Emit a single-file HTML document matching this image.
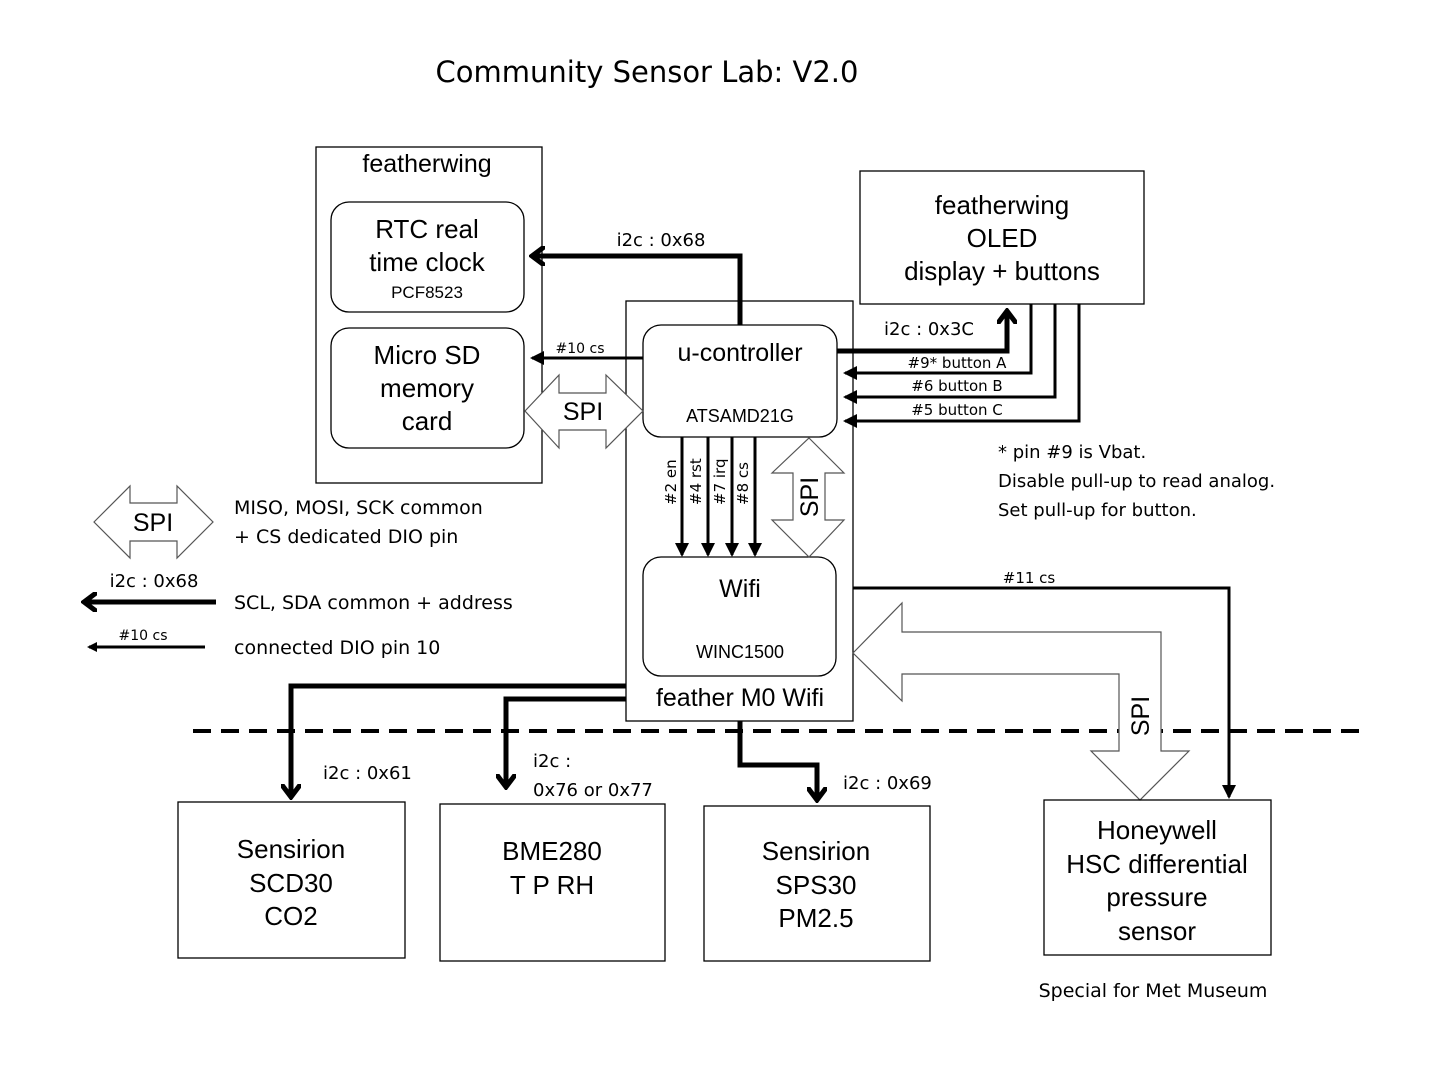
<!DOCTYPE html>
<html><head><meta charset="utf-8"><style>
html,body{margin:0;padding:0;background:#fff}
svg{display:block}
text{font-family:"Liberation Sans",sans-serif;fill:#000}
.c{font-family:"DejaVu Sans","Liberation Sans",sans-serif}
</style></head><body>
<svg width="1440" height="1080" viewBox="0 0 1440 1080">
<defs>
<marker id="ah" markerWidth="10" markerHeight="10" refX="8" refY="5" orient="auto" markerUnits="userSpaceOnUse"><path d="M0,0 L10,5 L0,10 Z"/></marker>
<marker id="ahs" markerWidth="14" markerHeight="14" refX="12" refY="7" orient="auto" markerUnits="userSpaceOnUse"><path d="M0,0 L14,7 L0,14 Z"/></marker>
<marker id="ahb" markerWidth="16" markerHeight="20" refX="13" refY="10" orient="auto" markerUnits="userSpaceOnUse"><path d="M1,1 L13,10 L1,19" fill="none" stroke="#000" stroke-width="5" stroke-linecap="round"/></marker>
</defs>
<text x="647" y="82" font-size="29" text-anchor="middle" class="c">Community Sensor Lab: V2.0</text>

<!-- featherwing left -->
<rect x="316" y="147" width="226" height="336" fill="none" stroke="#000" stroke-width="1.3"/>
<text x="427" y="172" font-size="25" text-anchor="middle">featherwing</text>
<rect x="331" y="202" width="193" height="110" rx="18" fill="none" stroke="#000" stroke-width="1.3"/>
<text x="427" y="238" font-size="26" text-anchor="middle">RTC real</text>
<text x="427" y="271" font-size="26" text-anchor="middle">time clock</text>
<text x="427" y="298" font-size="17" text-anchor="middle">PCF8523</text>
<rect x="331" y="328" width="193" height="120" rx="18" fill="none" stroke="#000" stroke-width="1.3"/>
<text x="427" y="364" font-size="26" text-anchor="middle">Micro SD</text>
<text x="427" y="397" font-size="26" text-anchor="middle">memory</text>
<text x="427" y="430" font-size="26" text-anchor="middle">card</text>

<!-- OLED -->
<rect x="860" y="171" width="284" height="133" fill="none" stroke="#000" stroke-width="1.3"/>
<text x="1002" y="214" font-size="26" text-anchor="middle">featherwing</text>
<text x="1002" y="247" font-size="26" text-anchor="middle">OLED</text>
<text x="1002" y="280" font-size="26" text-anchor="middle">display + buttons</text>

<!-- feather -->
<rect x="626" y="301" width="227" height="420" fill="none" stroke="#000" stroke-width="1.3"/>
<rect x="643" y="325" width="194" height="112" rx="18" fill="#fff" stroke="#000" stroke-width="1.3"/>
<text x="740" y="361" font-size="25" text-anchor="middle">u-controller</text>
<text x="740" y="422" font-size="18" text-anchor="middle">ATSAMD21G</text>
<rect x="643" y="557" width="193" height="119" rx="18" fill="#fff" stroke="#000" stroke-width="1.3"/>
<text x="740" y="597" font-size="25" text-anchor="middle">Wifi</text>
<text x="740" y="658" font-size="18" text-anchor="middle">WINC1500</text>
<text x="740" y="706" font-size="25" text-anchor="middle">feather M0 Wifi</text>

<!-- i2c 0x68 -->
<polyline points="740,325 740,256 532,256" fill="none" stroke="#000" stroke-width="5" marker-end="url(#ahb)"/>
<text x="661" y="246" font-size="18" text-anchor="middle" class="c">i2c : 0x68</text>
<!-- #10 cs -->
<line x1="643" y1="358" x2="532" y2="358" stroke="#000" stroke-width="3" marker-end="url(#ahs)"/>
<text x="580" y="353" font-size="14" text-anchor="middle" class="c">#10 cs</text>
<!-- SD SPI -->
<path d="M525,411 L559,375 L559,393 L606,393 L606,375 L643,411 L606,448 L606,430 L559,430 L559,448 Z" fill="#fff" stroke="#555" stroke-width="1.2"/>
<text x="583" y="420" font-size="25" text-anchor="middle">SPI</text>

<!-- i2c 0x3C -->
<polyline points="837,351 1007,351 1007,311" fill="none" stroke="#000" stroke-width="5" marker-end="url(#ahb)"/>
<text x="929" y="335" font-size="18" text-anchor="middle" class="c">i2c : 0x3C</text>
<polyline points="1031,304 1031,373 845,373" fill="none" stroke="#000" stroke-width="3" marker-end="url(#ahs)"/>
<polyline points="1055,304 1055,397 845,397" fill="none" stroke="#000" stroke-width="3" marker-end="url(#ahs)"/>
<polyline points="1079,304 1079,421 845,421" fill="none" stroke="#000" stroke-width="3" marker-end="url(#ahs)"/>
<text x="957" y="368" font-size="15" text-anchor="middle" class="c">#9* button A</text>
<text x="957" y="391" font-size="15" text-anchor="middle" class="c">#6 button B</text>
<text x="957" y="415" font-size="15" text-anchor="middle" class="c">#5 button C</text>
<text x="998" y="458" font-size="18" class="c">* pin #9 is Vbat.</text>
<text x="998" y="487" font-size="18" class="c">Disable pull-up to read analog.</text>
<text x="998" y="516" font-size="18" class="c">Set pull-up for button.</text>

<!-- pin arrows -->
<line x1="682" y1="437" x2="682" y2="555" stroke="#000" stroke-width="3" marker-end="url(#ahs)"/>
<line x1="708" y1="437" x2="708" y2="555" stroke="#000" stroke-width="3" marker-end="url(#ahs)"/>
<line x1="732" y1="437" x2="732" y2="555" stroke="#000" stroke-width="3" marker-end="url(#ahs)"/>
<line x1="755" y1="437" x2="755" y2="555" stroke="#000" stroke-width="3" marker-end="url(#ahs)"/>
<text transform="translate(676,505) rotate(-90)" font-size="15" class="c">#2 en</text>
<text transform="translate(701,505) rotate(-90)" font-size="15" class="c">#4 rst</text>
<text transform="translate(725,505) rotate(-90)" font-size="15" class="c">#7 irq</text>
<text transform="translate(748,505) rotate(-90)" font-size="15" class="c">#8 cs</text>
<path d="M809,438 L844,473 L825,473 L825,520 L844,520 L809,557 L772,520 L793,520 L793,473 L772,473 Z" fill="#fff" stroke="#555" stroke-width="1.2"/>
<text transform="translate(818,497) rotate(-90)" font-size="25" text-anchor="middle">SPI</text>

<!-- legend -->
<path d="M94,522 L130,486 L130,503 L177,503 L177,486 L213,522 L177,558 L177,541 L130,541 L130,558 Z" fill="#fff" stroke="#555" stroke-width="1.2"/>
<text x="153" y="531" font-size="25" text-anchor="middle">SPI</text>
<text x="234" y="514" font-size="19" class="c">MISO, MOSI, SCK common</text>
<text x="234" y="543" font-size="19" class="c">+ CS dedicated DIO pin</text>
<line x1="216" y1="602" x2="84" y2="602" stroke="#000" stroke-width="5" marker-end="url(#ahb)"/>
<text x="154" y="587" font-size="18" text-anchor="middle" class="c">i2c : 0x68</text>
<text x="234" y="609" font-size="19" class="c">SCL, SDA common + address</text>
<line x1="205" y1="647" x2="89" y2="647" stroke="#000" stroke-width="3" marker-end="url(#ah)"/>
<text x="143" y="640" font-size="14" text-anchor="middle" class="c">#10 cs</text>
<text x="234" y="654" font-size="19" class="c">connected DIO pin 10</text>

<!-- dashed -->
<line x1="193" y1="731" x2="1360" y2="731" stroke="#000" stroke-width="4" stroke-dasharray="18,10"/>

<!-- #11 cs -->
<polyline points="853,588 1229,588 1229,797" fill="none" stroke="#000" stroke-width="3" marker-end="url(#ahs)"/>
<text x="1029" y="583" font-size="15" text-anchor="middle" class="c">#11 cs</text>
<!-- bent SPI -->
<path d="M853,653 L902,603 L902,632 L1161,632 L1161,751 L1189,751 L1140,800 L1091,751 L1119,751 L1119,674 L902,674 L902,701 Z" fill="#fff" stroke="#555" stroke-width="1.2"/>
<text transform="translate(1149,716) rotate(-90)" font-size="25" text-anchor="middle">SPI</text>

<!-- sensor lines -->
<polyline points="626,686 291,686 291,797" fill="none" stroke="#000" stroke-width="5" marker-end="url(#ahb)"/>
<polyline points="626,699 506,699 506,787" fill="none" stroke="#000" stroke-width="5" marker-end="url(#ahb)"/>
<polyline points="740,721 740,765 817,765 817,800" fill="none" stroke="#000" stroke-width="5" marker-end="url(#ahb)"/>
<text x="323" y="779" font-size="18" class="c">i2c : 0x61</text>
<text x="533" y="767" font-size="18" class="c">i2c :</text>
<text x="533" y="796" font-size="18" class="c">0x76 or 0x77</text>
<text x="843" y="789" font-size="18" class="c">i2c : 0x69</text>

<!-- sensors -->
<rect x="178" y="802" width="227" height="156" fill="none" stroke="#000" stroke-width="1.3"/>
<text x="291" y="858" font-size="26" text-anchor="middle">Sensirion</text>
<text x="291" y="892" font-size="26" text-anchor="middle">SCD30</text>
<text x="291" y="925" font-size="26" text-anchor="middle">CO2</text>
<rect x="440" y="804" width="225" height="157" fill="none" stroke="#000" stroke-width="1.3"/>
<text x="552" y="860" font-size="26" text-anchor="middle">BME280</text>
<text x="552" y="894" font-size="26" text-anchor="middle">T P RH</text>
<rect x="704" y="806" width="226" height="155" fill="none" stroke="#000" stroke-width="1.3"/>
<text x="816" y="860" font-size="26" text-anchor="middle">Sensirion</text>
<text x="816" y="894" font-size="26" text-anchor="middle">SPS30</text>
<text x="816" y="927" font-size="26" text-anchor="middle">PM2.5</text>
<rect x="1044" y="800" width="227" height="155" fill="none" stroke="#000" stroke-width="1.3"/>
<text x="1157" y="839" font-size="26" text-anchor="middle">Honeywell</text>
<text x="1157" y="873" font-size="26" text-anchor="middle">HSC differential</text>
<text x="1157" y="906" font-size="26" text-anchor="middle">pressure</text>
<text x="1157" y="940" font-size="26" text-anchor="middle">sensor</text>
<text x="1153" y="997" font-size="19" text-anchor="middle" class="c">Special for Met Museum</text>
</svg>
</body></html>
